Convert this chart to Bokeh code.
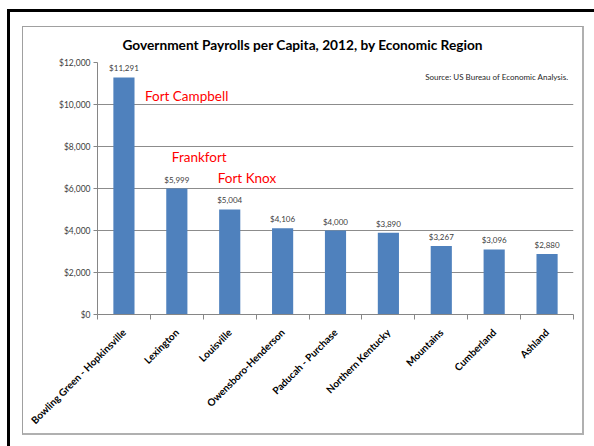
from math import pi
from bokeh.plotting import figure
from bokeh.models import (ColumnDataSource, LabelSet, Label, Title, Range1d,
                          LinearAxis, FixedTicker, NumeralTickFormatter, InlineStyleSheet)
from bokeh.core.properties import value
from bokeh.embed import file_html
from bokeh.resources import INLINE

# ---- data ----
regions = ["Bowling Green - Hopkinsville", "Lexington", "Louisville", "Owensboro-Henderson",
           "Paducah - Purchase", "Northern Kentucky", "Mountains", "Cumberland", "Ashland"]
payrolls = [11291, 5999, 5004, 4106, 4000, 3890, 3267, 3096, 2880]
y_ticks = [0, 2000, 4000, 6000, 8000, 10000, 12000]
note_regions = ["Bowling Green - Hopkinsville", "Lexington", "Louisville"]
note_texts = ["Fort Campbell", "Frankfort", "Fort Knox"]
title_text = "Government Payrolls per Capita, 2012, by Economic Region"
source_text = "Source: US Bureau of Economic Analysis."

FONT = "Lato"
BAR = "#4f81bd"
AXIS = "#868686"

n = len(regions)
centres = [i + 0.5 for i in range(n)]
bounds = list(range(n + 1))
src = ColumnDataSource(dict(xc=centres, region=regions, payroll=payrolls,
                            label=["${:,}".format(v) for v in payrolls]))

p = figure(x_range=Range1d(0, n), y_range=Range1d(0, 12000),
           width=594, height=446, output_backend="svg", toolbar_location=None,
           x_axis_location=None,
           min_border_left=97, min_border_right=21, min_border_top=62, min_border_bottom=132)
p.outline_line_color = None
p.background_fill_color = "white"
p.border_fill_color = "white"

# y axis
ya = p.yaxis[0]
ya.ticker = FixedTicker(ticks=y_ticks)
ya.formatter = NumeralTickFormatter(format="$0,0")
ya.axis_line_color = AXIS
ya.major_tick_line_color = AXIS
ya.major_tick_out = 4
ya.major_tick_in = 0
ya.minor_tick_line_color = None
ya.major_label_text_font = FONT
ya.major_label_text_font_size = "8.5px"
ya.major_label_text_color = "#404040"
ya.major_label_standoff = 3

p.xgrid.visible = False
p.ygrid.grid_line_color = "#8c8c8c"

# category axis: labels at bar centres, tick marks between categories
cat_axis = LinearAxis(ticker=FixedTicker(ticks=centres, minor_ticks=bounds),
                      major_label_overrides={c: r for c, r in zip(centres, regions)},
                      axis_line_color=AXIS,
                      major_tick_line_color=None, major_tick_out=0, major_tick_in=0,
                      minor_tick_line_color=AXIS, minor_tick_out=5, minor_tick_in=0,
                      major_label_orientation=pi / 4,
                      major_label_text_font=FONT, major_label_text_font_style="bold",
                      major_label_text_font_size="10px", major_label_text_color="black",
                      major_label_standoff=11)
p.add_layout(cat_axis, "below")

# bars
p.vbar(x="xc", top="payroll", width=0.4, source=src, fill_color=BAR, line_color=None)

# value labels
p.add_layout(LabelSet(x="xc", y="payroll", text="label", source=src,
                      y_offset=4, text_align="center", text_baseline="bottom",
                      text_font=value(FONT), text_font_size=value("8px"),
                      text_color="#404040", background_fill_color="white"))

# red notes (placed relative to their bar centres)
note_pos = [(21, 10400), (-5, 7480), (-12, 6480)]
for reg, txt, (dx, yy) in zip(note_regions, note_texts, note_pos):
    p.add_layout(Label(x=centres[regions.index(reg)], y=yy, x_offset=dx, text=txt,
                       text_align="left", text_baseline="alphabetic", text_font=FONT,
                       text_font_size="13.5px", text_color="#ff0000"))

# source
p.add_layout(Label(x=n, y=11330, x_offset=-5, text=source_text, text_align="right",
                   text_baseline="middle", text_font=FONT, text_font_size="8px",
                   text_color="#262626"))

# title
p.add_layout(Title(text=title_text, align="left", offset=25, standoff=19,
                   text_font=FONT, text_font_style="bold", text_font_size="13.7px",
                   text_color="black"), "above")

# frame decorations (outer black frame and inner grey chart box)
p.stylesheets = [InlineStyleSheet(css="""
:host { position: relative; }
:host::before {
  content: ""; position: absolute; left: 7px; top: 9px; width: 587px; height: 437px;
  box-sizing: border-box; border-top: 3px solid black; border-left: 3px solid black;
  z-index: 100; pointer-events: none;
}
:host::after {
  content: ""; position: absolute; left: 22px; top: 26px; width: 562px; height: 409px;
  box-sizing: border-box; border: 1px solid #a0a0a0;
  border-right: 2px solid #b0b0b0; border-bottom: 2px solid #b0b0b0;
  z-index: 100; pointer-events: none;
}
""")]

open("out.html", "w").write(file_html(p, INLINE))
